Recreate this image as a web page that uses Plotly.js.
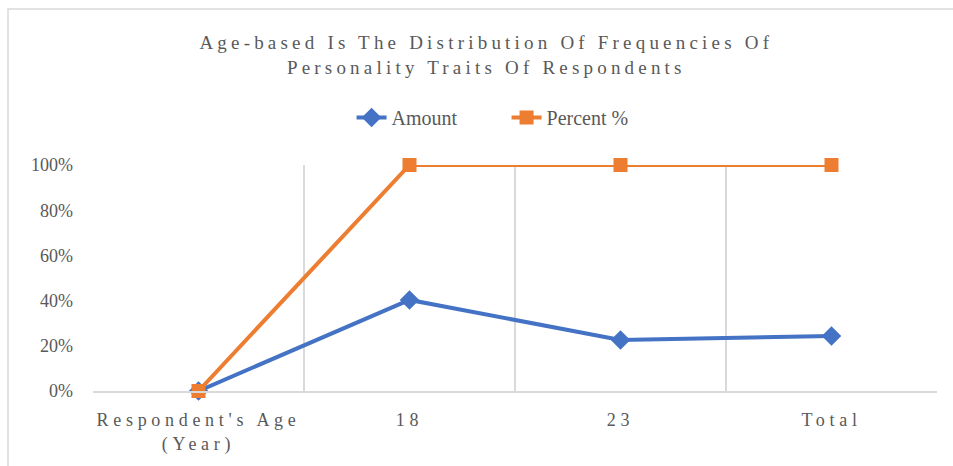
<!DOCTYPE html>
<html>
<head>
<meta charset="utf-8">
<script src="https://cdn.plot.ly/plotly-3.0.1.min.js"></script>
<style>
html, body { margin: 0; padding: 0; background: #fff; }
#chart { width: 953px; height: 466px; }
.gtitle { letter-spacing: 4.2px; }
.xtick text { letter-spacing: 4.7px; }
</style>
</head>
<body>
<div id="chart"></div>
<script>
const categories = ["Respondent's Age<br>(Year)", "18", "23", "Total"];
const amountValues = [0, 0.403, 0.226, 0.243];
const percentValues = [0, 1, 1, 1];
const yTickValues = [0, 0.2, 0.4, 0.6, 0.8, 1];
const yTickLabels = ["0%", "20%", "40%", "60%", "80%", "100%"];

const textColor = '#595959';
const serif = 'Liberation Serif, Times New Roman, serif';

const traces = [
  {
    x: categories, y: amountValues, name: 'Amount', type: 'scatter', mode: 'lines+markers',
    line: { color: '#4472C4', width: 4 }, cliponaxis: false,
    marker: { symbol: 'diamond', size: 15, color: '#4472C4' }
  },
  {
    x: categories, y: percentValues, name: 'Percent %', type: 'scatter', mode: 'lines+markers',
    line: { color: '#ED7D31', width: 4 }, cliponaxis: false,
    marker: { symbol: 'square', size: 14, color: '#ED7D31' }
  }
];

const layout = {
  width: 953, height: 466,
  margin: { l: 93, r: 16, t: 165, b: 75 },
  paper_bgcolor: '#fff', plot_bgcolor: '#fff',
  font: { family: serif, color: textColor, size: 18 },
  title: {
    text: 'Age-based Is The Distribution Of Frequencies Of<br>Personality Traits Of Respondents',
    font: { family: serif, size: 19, color: textColor },
    x: 0.466, xanchor: 'center', xref: 'paper',
    y: 0.895, yanchor: 'top', yref: 'container'
  },
  showlegend: true,
  legend: {
    orientation: 'h', x: 0.49, xanchor: 'center', y: 1.21, yanchor: 'middle',
    xref: 'paper', yref: 'paper',
    font: { family: serif, size: 20, color: textColor },
    entrywidth: 110, entrywidthmode: 'pixels'
  },
  xaxis: {
    type: 'category', range: [-0.5, 3.5],
    tickson: 'boundaries', ticks: '', showgrid: true, gridcolor: '#d9d9d9', gridwidth: 1.5,
    showline: true, linecolor: '#d9d9d9', linewidth: 1.5,
    tickfont: { family: serif, size: 18, color: textColor },
    ticklabelstandoff: 12,
    zeroline: false, fixedrange: true
  },
  yaxis: {
    range: [0, 1], tickvals: yTickValues, ticktext: yTickLabels,
    showgrid: false, zeroline: false, showline: false, ticks: '',
    tickfont: { family: serif, size: 18, color: textColor },
    ticklabelstandoff: 19, fixedrange: true
  },
  shapes: [
    { type: 'rect', xref: 'paper', yref: 'paper', x0: -0.1007, x1: 1.1, y0: -0.5, y1: 1.69,
      line: { color: '#d9d9d9', width: 1.5 }, fillcolor: 'rgba(0,0,0,0)', layer: 'below' }
  ]
};

Plotly.newPlot('chart', traces, layout, { displayModeBar: false, staticPlot: true });
</script>
</body>
</html>
